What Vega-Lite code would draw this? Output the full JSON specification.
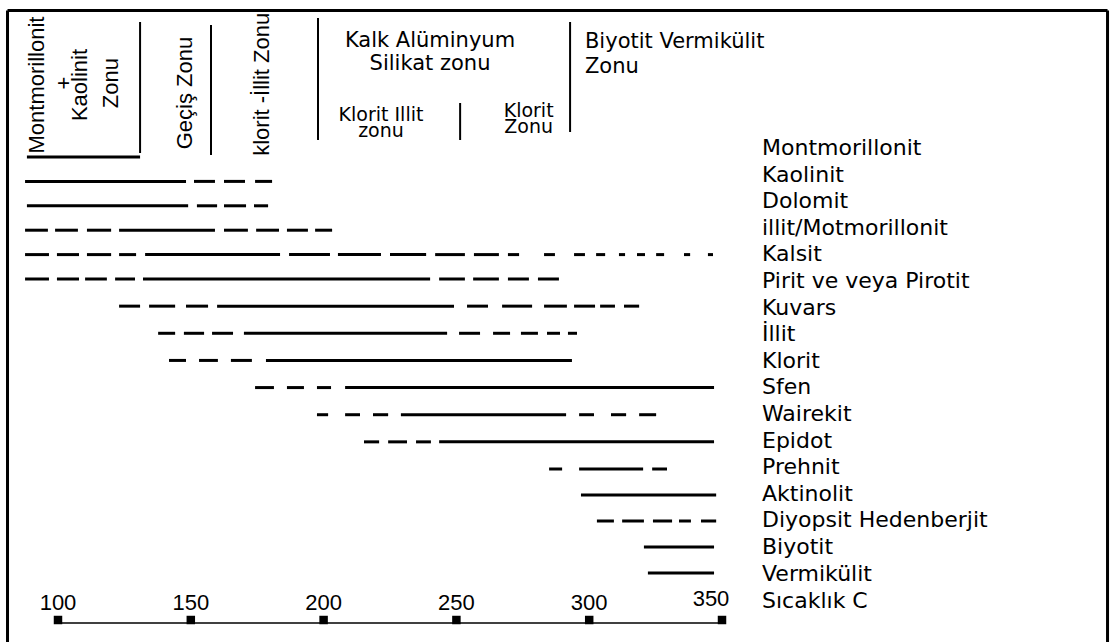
{
  "$schema": "https://vega.github.io/schema/vega-lite/v6.json",
  "width": 1110,
  "height": 642,
  "padding": 0,
  "autosize": "none",
  "background": "white",
  "config": {"view": {"stroke": null}},
  "resolve": {"scale": {"y": "independent"}},
  "datasets": {
    "frame": [
      {"x": 80.99, "x2": 495.15, "r": -6.004, "r2": -6.004},
      {"x": 80.99, "x2": 80.99, "r": -6.004, "r2": 18.7},
      {"x": 495.15, "x2": 495.15, "r": -6.004, "r2": 18.7}
    ],
    "zoneLines": [
      {"x": 130.9, "r": -5.533, "r2": -0.164},
      {"x": 157.6, "r": -5.41, "r2": -0.082},
      {"x": 197.9, "r": -5.697, "r2": -0.697},
      {"x": 251.4, "r": -2.213, "r2": -0.697},
      {"x": 292.8, "r": -5.533, "r2": -1.025}
    ],
    "zoneTextTop": [
      {"x": 240.06, "r": -4.508, "text": ["Kalk Alüminyum", "Silikat zonu"]}
    ],
    "zoneTextSub": [
      {"x": 221.6, "r": -1.475, "text": ["Klorit  Illit", "zonu"]},
      {"x": 277.2, "r": -1.64, "text": ["Klorit", "Zonu"]}
    ],
    "zoneTextLeft": [
      {"x": 298.4, "r": -4.467, "text": ["Biyotit Vermikülit", "Zonu"]}
    ],
    "rotText": [
      {"x": 94.73, "r": -2.95, "text": "Montmorillonit"},
      {"x": 104.9, "r": -3.033, "text": "+"},
      {"x": 110.9, "r": -2.95, "text": "Kaolinit"},
      {"x": 122.6, "r": -3.03, "text": "Zonu"},
      {"x": 150.45, "r": -2.623, "text": "Geçiş Zonu"},
      {"x": 179.44, "r": -2.98, "text": "klorit -İllit Zonu"}
    ],
    "segs": [
      {"r": 0, "x": 88.3, "x2": 130.9},
      {"r": 1, "x": 87.6, "x2": 148.2}, {"r": 1, "x": 151.2, "x2": 159.1}, {"r": 1, "x": 162.5, "x2": 170.4}, {"r": 1, "x": 174.2, "x2": 180.6},
      {"r": 2, "x": 88.3, "x2": 149.0}, {"r": 2, "x": 152.3, "x2": 159.9}, {"r": 2, "x": 162.5, "x2": 170.8}, {"r": 2, "x": 173.8, "x2": 179.1},
      {"r": 3, "x": 87.6, "x2": 96.2}, {"r": 3, "x": 98.9, "x2": 107.5}, {"r": 3, "x": 110.9, "x2": 120.0}, {"r": 3, "x": 123.0, "x2": 159.1}, {"r": 3, "x": 162.5, "x2": 171.5}, {"r": 3, "x": 174.6, "x2": 183.2}, {"r": 3, "x": 186.2, "x2": 194.1}, {"r": 3, "x": 196.8, "x2": 203.2},
      {"r": 4, "x": 87.6, "x2": 96.6}, {"r": 4, "x": 99.6, "x2": 107.9}, {"r": 4, "x": 110.9, "x2": 120.0}, {"r": 4, "x": 123.0, "x2": 129.4}, {"r": 4, "x": 132.8, "x2": 183.6}, {"r": 4, "x": 187.0, "x2": 202.4}, {"r": 4, "x": 205.4, "x2": 221.6}, {"r": 4, "x": 225.0, "x2": 238.6}, {"r": 4, "x": 242.0, "x2": 253.2}, {"r": 4, "x": 256.6, "x2": 266.0}, {"r": 4, "x": 269.4, "x2": 273.6}, {"r": 4, "x": 283.0, "x2": 287.1}, {"r": 4, "x": 294.3, "x2": 298.4}, {"r": 4, "x": 302.6, "x2": 306.0}, {"r": 4, "x": 311.2, "x2": 313.5}, {"r": 4, "x": 318.0, "x2": 321.0}, {"r": 4, "x": 325.2, "x2": 328.2}, {"r": 4, "x": 335.7, "x2": 338.0}, {"r": 4, "x": 344.7, "x2": 346.6},
      {"r": 5, "x": 87.6, "x2": 96.6}, {"r": 5, "x": 99.6, "x2": 107.9}, {"r": 5, "x": 110.2, "x2": 118.4}, {"r": 5, "x": 121.5, "x2": 129.0}, {"r": 5, "x": 132.0, "x2": 240.1}, {"r": 5, "x": 243.5, "x2": 253.2}, {"r": 5, "x": 256.3, "x2": 266.0}, {"r": 5, "x": 269.4, "x2": 277.3}, {"r": 5, "x": 280.7, "x2": 288.6},
      {"r": 6, "x": 123.0, "x2": 130.9}, {"r": 6, "x": 134.3, "x2": 144.1}, {"r": 6, "x": 148.2, "x2": 156.5}, {"r": 6, "x": 159.9, "x2": 249.1}, {"r": 6, "x": 254.0, "x2": 261.9}, {"r": 6, "x": 267.2, "x2": 278.5}, {"r": 6, "x": 283.0, "x2": 291.6}, {"r": 6, "x": 294.3, "x2": 302.2}, {"r": 6, "x": 304.1, "x2": 309.7}, {"r": 6, "x": 313.1, "x2": 318.8},
      {"r": 7, "x": 137.7, "x2": 144.1}, {"r": 7, "x": 147.4, "x2": 155.0}, {"r": 7, "x": 158.0, "x2": 165.9}, {"r": 7, "x": 170.0, "x2": 246.5}, {"r": 7, "x": 251.0, "x2": 258.9}, {"r": 7, "x": 263.8, "x2": 270.2}, {"r": 7, "x": 274.3, "x2": 280.7}, {"r": 7, "x": 284.1, "x2": 289.0}, {"r": 7, "x": 292.0, "x2": 295.4},
      {"r": 8, "x": 141.8, "x2": 148.2}, {"r": 8, "x": 153.1, "x2": 160.2}, {"r": 8, "x": 165.1, "x2": 173.0}, {"r": 8, "x": 178.3, "x2": 293.5},
      {"r": 9, "x": 174.2, "x2": 181.3}, {"r": 9, "x": 186.2, "x2": 192.6}, {"r": 9, "x": 197.5, "x2": 202.8}, {"r": 9, "x": 208.1, "x2": 347.0},
      {"r": 10, "x": 197.5, "x2": 201.7}, {"r": 10, "x": 208.1, "x2": 213.7}, {"r": 10, "x": 218.6, "x2": 224.3}, {"r": 10, "x": 229.1, "x2": 291.3}, {"r": 10, "x": 296.2, "x2": 301.8}, {"r": 10, "x": 308.2, "x2": 313.9}, {"r": 10, "x": 318.8, "x2": 325.2},
      {"r": 11, "x": 215.2, "x2": 220.9}, {"r": 11, "x": 224.3, "x2": 231.4}, {"r": 11, "x": 234.8, "x2": 240.4}, {"r": 11, "x": 243.5, "x2": 347.0},
      {"r": 12, "x": 284.9, "x2": 289.8}, {"r": 12, "x": 296.2, "x2": 320.3}, {"r": 12, "x": 323.7, "x2": 329.3},
      {"r": 13, "x": 296.9, "x2": 347.8},
      {"r": 14, "x": 302.9, "x2": 309.3}, {"r": 14, "x": 312.4, "x2": 320.6}, {"r": 14, "x": 324.0, "x2": 331.2}, {"r": 14, "x": 333.8, "x2": 338.3}, {"r": 14, "x": 342.1, "x2": 347.8},
      {"r": 15, "x": 320.6, "x2": 347.0},
      {"r": 16, "x": 322.1, "x2": 347.0}
    ],
    "labels": [
      {"i": 0, "name": "Montmorillonit"},
      {"i": 1, "name": "Kaolinit"},
      {"i": 2, "name": "Dolomit"},
      {"i": 3, "name": "illit/Motmorillonit"},
      {"i": 4, "name": "Kalsit"},
      {"i": 5, "name": "Pirit ve veya Pirotit"},
      {"i": 6, "name": "Kuvars"},
      {"i": 7, "name": "İllit"},
      {"i": 8, "name": "Klorit"},
      {"i": 9, "name": "Sfen"},
      {"i": 10, "name": "Wairekit"},
      {"i": 11, "name": "Epidot"},
      {"i": 12, "name": "Prehnit"},
      {"i": 13, "name": "Aktinolit"},
      {"i": 14, "name": "Diyopsit Hedenberjit"},
      {"i": 15, "name": "Biyotit"},
      {"i": 16, "name": "Vermikülit"}
    ],
    "axisLine": [{"x": 100, "x2": 350, "r": 17.923}],
    "ticks": [
      {"x": 100, "r": 17.808, "r2": 17.423},
      {"x": 150, "r": 17.808, "r2": 17.423},
      {"x": 200, "r": 17.808, "r2": 17.423},
      {"x": 250, "r": 17.808, "r2": 17.423},
      {"x": 300, "r": 17.808, "r2": 17.423},
      {"x": 350, "r": 17.808, "r2": 17.423}
    ],
    "axisTitle": [{"x": 365.06, "r": 17.346, "text": "Sıcaklık C"}]
  },
  "layer": [
    {
      "data": {"name": "frame"},
      "mark": {"type": "rule", "color": "#000", "strokeWidth": 3},
      "encoding": {
        "x": {"field": "x", "type": "quantitative", "axis": null, "scale": {"domain": [78.163, 496.08], "range": [0, 1110], "nice": false, "zero": false}},
        "x2": {"field": "x2"},
        "y": {"field": "r", "type": "quantitative", "axis": null, "scale": {"domain": [-6.434, 5, 12, 18.654], "range": [0, 279, 469, 642], "nice": false, "zero": false}},
        "y2": {"field": "r2"}
      }
    },
    {
      "data": {"name": "zoneLines"},
      "mark": {"type": "rule", "color": "#000", "strokeWidth": 2},
      "encoding": {
        "x": {"field": "x", "type": "quantitative", "axis": null, "scale": {"domain": [78.163, 496.08], "range": [0, 1110], "nice": false, "zero": false}},
        "y": {"field": "r", "type": "quantitative", "axis": null, "scale": {"domain": [-6.434, 5, 12, 18.654], "range": [0, 279, 469, 642], "nice": false, "zero": false}},
        "y2": {"field": "r2"}
      }
    },
    {
      "data": {"name": "segs"},
      "mark": {"type": "rule", "color": "#000", "strokeWidth": 3, "strokeCap": "butt"},
      "encoding": {
        "x": {"field": "x", "type": "quantitative", "axis": null, "scale": {"domain": [78.163, 496.08], "range": [0, 1110], "nice": false, "zero": false}},
        "x2": {"field": "x2"},
        "y": {"field": "r", "type": "quantitative", "axis": null, "scale": {"domain": [-6.434, 5, 12, 18.654], "range": [0, 279, 469, 642], "nice": false, "zero": false}}
      }
    },
    {
      "data": {"name": "zoneTextTop"},
      "mark": {"type": "text", "font": "DejaVu Sans", "fontSize": 21, "align": "center", "baseline": "alphabetic", "color": "#000", "lineHeight": 23},
      "encoding": {
        "x": {"field": "x", "type": "quantitative", "axis": null, "scale": {"domain": [78.163, 496.08], "range": [0, 1110], "nice": false, "zero": false}},
        "y": {"field": "r", "type": "quantitative", "axis": null, "scale": {"domain": [-6.434, 5, 12, 18.654], "range": [0, 279, 469, 642], "nice": false, "zero": false}},
        "text": {"field": "text"}
      }
    },
    {
      "data": {"name": "zoneTextSub"},
      "mark": {"type": "text", "font": "DejaVu Sans", "fontSize": 19, "align": "center", "baseline": "alphabetic", "color": "#000", "lineHeight": 16},
      "encoding": {
        "x": {"field": "x", "type": "quantitative", "axis": null, "scale": {"domain": [78.163, 496.08], "range": [0, 1110], "nice": false, "zero": false}},
        "y": {"field": "r", "type": "quantitative", "axis": null, "scale": {"domain": [-6.434, 5, 12, 18.654], "range": [0, 279, 469, 642], "nice": false, "zero": false}},
        "text": {"field": "text"}
      }
    },
    {
      "data": {"name": "zoneTextLeft"},
      "mark": {"type": "text", "font": "DejaVu Sans", "fontSize": 21, "align": "left", "baseline": "alphabetic", "color": "#000", "lineHeight": 25},
      "encoding": {
        "x": {"field": "x", "type": "quantitative", "axis": null, "scale": {"domain": [78.163, 496.08], "range": [0, 1110], "nice": false, "zero": false}},
        "y": {"field": "r", "type": "quantitative", "axis": null, "scale": {"domain": [-6.434, 5, 12, 18.654], "range": [0, 279, 469, 642], "nice": false, "zero": false}},
        "text": {"field": "text"}
      }
    },
    {
      "data": {"name": "rotText"},
      "mark": {"type": "text", "font": "Liberation Sans", "fontSize": 22, "angle": 270, "align": "center", "baseline": "alphabetic", "color": "#000"},
      "encoding": {
        "x": {"field": "x", "type": "quantitative", "axis": null, "scale": {"domain": [78.163, 496.08], "range": [0, 1110], "nice": false, "zero": false}},
        "y": {"field": "r", "type": "quantitative", "axis": null, "scale": {"domain": [-6.434, 5, 12, 18.654], "range": [0, 279, 469, 642], "nice": false, "zero": false}},
        "text": {"field": "text"}
      }
    },
    {
      "data": {"name": "labels"},
      "mark": {"type": "text", "font": "DejaVu Sans", "fontSize": 22, "align": "left", "baseline": "alphabetic", "color": "#000"},
      "encoding": {
        "x": {"datum": 365.06, "type": "quantitative", "axis": null, "scale": {"domain": [78.163, 496.08], "range": [0, 1110], "nice": false, "zero": false}},
        "y": {"field": "i", "type": "quantitative", "axis": null, "scale": {"domain": [-5.827, 18.308], "range": [0, 642], "nice": false, "zero": false}},
        "text": {"field": "name"}
      }
    },
    {
      "data": {"name": "axisLine"},
      "mark": {"type": "rule", "color": "#000", "strokeWidth": 1.5},
      "encoding": {
        "x": {"field": "x", "type": "quantitative", "axis": null, "scale": {"domain": [78.163, 496.08], "range": [0, 1110], "nice": false, "zero": false}},
        "x2": {"field": "x2"},
        "y": {"field": "r", "type": "quantitative", "axis": null, "scale": {"domain": [-6.434, 5, 12, 18.654], "range": [0, 279, 469, 642], "nice": false, "zero": false}}
      }
    },
    {
      "data": {"name": "ticks"},
      "mark": {"type": "point", "shape": "square", "filled": true, "color": "#000", "size": 72, "opacity": 1},
      "encoding": {
        "x": {"field": "x", "type": "quantitative", "axis": null, "scale": {"domain": [78.163, 496.08], "range": [0, 1110], "nice": false, "zero": false}},
        "y": {"field": "r", "type": "quantitative", "axis": null, "scale": {"domain": [-6.434, 5, 12, 18.654], "range": [0, 279, 469, 642], "nice": false, "zero": false}}
      }
    },
    {
      "data": {"name": "ticks"},
      "transform": [{"filter": "datum.x < 350"}],
      "mark": {"type": "text", "font": "Liberation Sans", "fontSize": 22, "align": "center", "baseline": "alphabetic", "color": "#000"},
      "encoding": {
        "x": {"field": "x", "type": "quantitative", "axis": null, "scale": {"domain": [78.163, 496.08], "range": [0, 1110], "nice": false, "zero": false}},
        "y": {"field": "r2", "type": "quantitative", "axis": null, "scale": {"domain": [-6.434, 5, 12, 18.654], "range": [0, 279, 469, 642], "nice": false, "zero": false}},
        "text": {"field": "x", "type": "quantitative", "format": "d"}
      }
    },
    {
      "data": {"name": "ticks"},
      "transform": [{"filter": "datum.x >= 350"}],
      "mark": {"type": "text", "font": "Liberation Sans", "fontSize": 22, "align": "center", "baseline": "alphabetic", "color": "#000", "dx": -11, "dy": -4},
      "encoding": {
        "x": {"field": "x", "type": "quantitative", "axis": null, "scale": {"domain": [78.163, 496.08], "range": [0, 1110], "nice": false, "zero": false}},
        "y": {"field": "r2", "type": "quantitative", "axis": null, "scale": {"domain": [-6.434, 5, 12, 18.654], "range": [0, 279, 469, 642], "nice": false, "zero": false}},
        "text": {"field": "x", "type": "quantitative", "format": "d"}
      }
    },
    {
      "data": {"name": "axisTitle"},
      "mark": {"type": "text", "font": "DejaVu Sans", "fontSize": 22, "align": "left", "baseline": "alphabetic", "color": "#000"},
      "encoding": {
        "x": {"field": "x", "type": "quantitative", "axis": null, "scale": {"domain": [78.163, 496.08], "range": [0, 1110], "nice": false, "zero": false}},
        "y": {"field": "r", "type": "quantitative", "axis": null, "scale": {"domain": [-6.434, 5, 12, 18.654], "range": [0, 279, 469, 642], "nice": false, "zero": false}},
        "text": {"field": "text"}
      }
    }
  ]
}
